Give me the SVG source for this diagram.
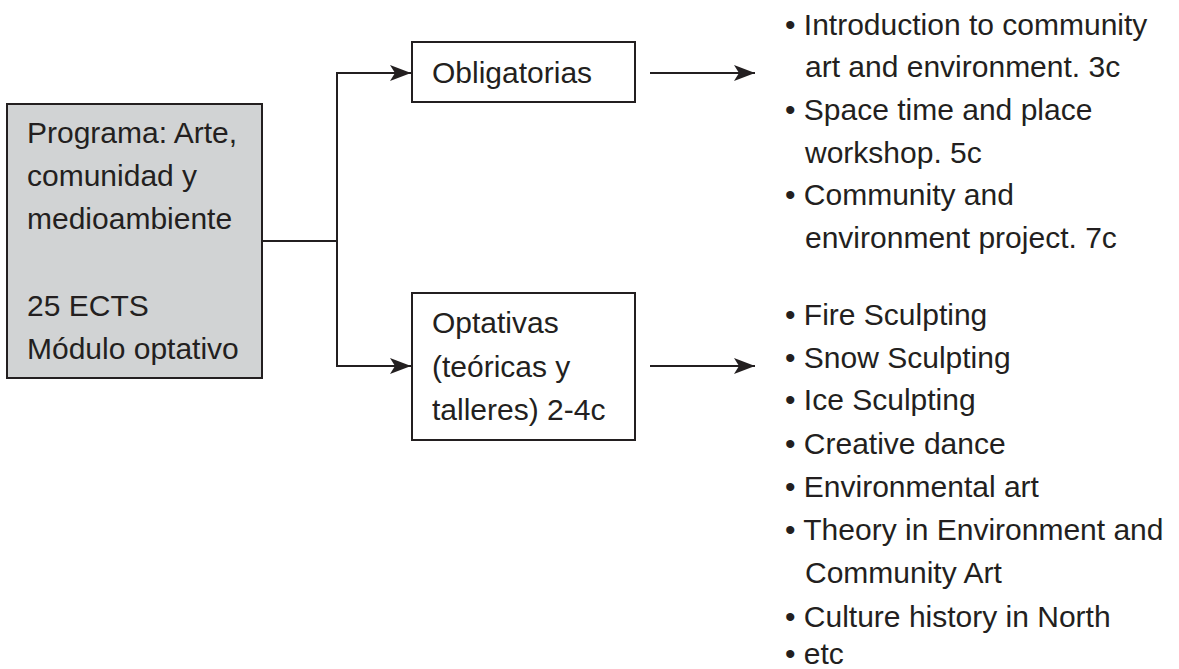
<svg xmlns="http://www.w3.org/2000/svg" width="1179" height="669" viewBox="0 0 1179 669">
<style>
  .t { font-family: "Liberation Sans", Arial, Helvetica, sans-serif; font-size: 30px; fill: #231f20; }
  .box { fill: #ffffff; stroke: #231f20; stroke-width: 2; }
  .main { fill: #d1d3d4; stroke: #231f20; stroke-width: 2; }
  .conn { fill: none; stroke: #231f20; stroke-width: 2; }
</style>
<defs>
  <marker id="arr" markerUnits="userSpaceOnUse" markerWidth="26" markerHeight="20" refX="22" refY="9" orient="auto">
    <path d="M1,1 L22,9 L1,17 L6,9 Z" fill="#231f20"/>
  </marker>
</defs>
<rect width="1179" height="669" fill="#ffffff"/>
<g id="connectors">
  <path class="conn" d="M262,241 H337"/>
  <path class="conn" d="M337,241 V73 H411" marker-end="url(#arr)"/>
  <path class="conn" d="M337,241 V366 H411" marker-end="url(#arr)"/>
  <path class="conn" d="M650,73 H755" marker-end="url(#arr)"/>
  <path class="conn" d="M650,366 H755" marker-end="url(#arr)"/>
</g>
<g id="programa">
  <rect class="main" x="7" y="104" width="255" height="274"/>
  <text class="t" x="27" y="143">Programa: Arte,</text>
  <text class="t" x="27" y="186">comunidad y</text>
  <text class="t" x="27" y="229">medioambiente</text>
  <text class="t" x="27" y="316">25 ECTS</text>
  <text class="t" x="27" y="359">Módulo optativo</text>
</g>
<g id="obligatorias">
  <rect class="box" x="412" y="42" width="223" height="60"/>
  <text class="t" x="432" y="83">Obligatorias</text>
</g>
<g id="optativas">
  <rect class="box" x="412" y="293" width="223" height="147"/>
  <text class="t" x="432" y="333">Optativas</text>
  <text class="t" x="432" y="377">(teóricas y</text>
  <text class="t" x="432" y="420">talleres) 2-4c</text>
</g>
<g id="obligatorias-list">
  <text class="t" x="785" y="35">• Introduction to community</text>
  <text class="t" x="805" y="77">art and environment. 3c</text>
  <text class="t" x="785" y="120">• Space time and place</text>
  <text class="t" x="805" y="163">workshop. 5c</text>
  <text class="t" x="785" y="205">• Community and</text>
  <text class="t" x="805" y="248">environment project. 7c</text>
</g>
<g id="optativas-list">
  <text class="t" x="785" y="325">• Fire Sculpting</text>
  <text class="t" x="785" y="368">• Snow Sculpting</text>
  <text class="t" x="785" y="410">• Ice Sculpting</text>
  <text class="t" x="785" y="454">• Creative dance</text>
  <text class="t" x="785" y="497">• Environmental art</text>
  <text class="t" x="785" y="540">• Theory in Environment and</text>
  <text class="t" x="805" y="583">Community Art</text>
  <text class="t" x="785" y="627">• Culture history in North</text>
  <text class="t" x="785" y="664">• etc</text>
</g>
</svg>
